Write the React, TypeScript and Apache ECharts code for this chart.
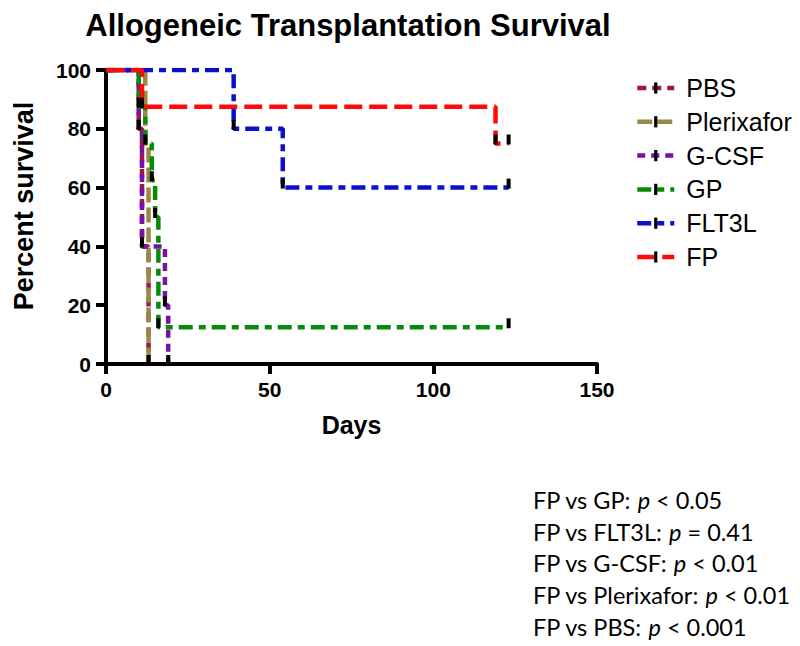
import React, { useEffect, useRef } from "react";
import * as echarts from "echarts";

const seriesNames = ["PBS", "Plerixafor", "G-CSF", "GP", "FLT3L", "FP"];
const pbs: number[][] = [[0, 100], [10, 80], [11, 40], [13, 0]];
const plerixafor: number[][] = [[0, 100], [12, 75], [13, 0]];
const gcsf: number[][] = [[0, 100], [10, 80], [11, 40], [18, 20], [19, 0]];
const gp: number[][] = [[0, 100], [10, 87.5], [12, 75], [14, 62.5], [15, 50], [16, 12.5], [123, 12.5]];
const flt3l: number[][] = [[0, 100], [39, 80], [54, 60], [123, 60]];
const fp: number[][] = [[0, 100], [11, 87.5], [119, 75], [123, 75]];
const seriesData = [pbs, plerixafor, gcsf, gp, flt3l, fp];

const colors = ["#A0144E", "#9A8848", "#7A10A8", "#078A07", "#0A10CC", "#FF0A0A"];
const dashes: number[][] = [[9, 6], [15, 5], [8, 6], [14, 6, 7, 6], [14, 6, 7, 6], [18, 7]];

const xTicks = [0, 50, 100, 150];
const yTicks = [0, 20, 40, 60, 80, 100];

const comparisons = ["GP", "FLT3L", "G-CSF", "Plerixafor", "PBS"];
const pOps = ["<", "=", "<", "<", "<"];
const pVals = ["0.05", "0.41", "0.01", "0.01", "0.001"];

const ARIAL = "Arial, 'Liberation Sans', sans-serif";
const markSymbol = "path://M0,10 L0,10 M14,0 L14,0 M5,0 L9,0 L9,10 L5,10 Z";

export default function App() {
  const ref = useRef<HTMLDivElement>(null);
  useEffect(() => {
    if (!ref.current) return;
    const chart = echarts.init(ref.current, null, { renderer: "svg" });
    const statFont = "Lato, 'Open Sans', sans-serif";
    const graphics: any[] = [
      {
        type: "text",
        x: 348,
        y: 25,
        style: {
          text: "Allogeneic Transplantation Survival",
          fontSize: 31,
          fontWeight: "bold",
          fontFamily: ARIAL,
          fill: "#000",
          textAlign: "center",
          textVerticalAlign: "middle",
        },
      },
      {
        type: "text",
        x: 24,
        y: 206,
        rotation: Math.PI / 2,
        style: {
          text: "Percent survival",
          fontSize: 27,
          fontWeight: "bold",
          fontFamily: ARIAL,
          fill: "#000",
          textAlign: "center",
          textVerticalAlign: "middle",
        },
      },
    ];
    comparisons.forEach((c, i) => {
      graphics.push({
        type: "text",
        x: 533,
        y: 500 + i * 31.7,
        style: {
          text: `FP vs ${c}: {i|p} ${pOps[i]} ${pVals[i]}`,
          fontSize: 23.5,
          fontFamily: statFont,
          fill: "#000",
          textVerticalAlign: "middle",
          rich: {
            i: { fontStyle: "italic", fontSize: 23.5, fontFamily: statFont, fill: "#000" },
          },
        },
      });
    });
    chart.setOption({
      animation: false,
      backgroundColor: "#fff",
      grid: { left: 106, right: 203, top: 70, bottom: 282, containLabel: false },
      legend: {
        orient: "vertical",
        left: 630,
        top: 70,
        itemGap: 7.8,
        itemWidth: 37,
        itemHeight: 14,
        data: seriesNames,
        lineStyle: { width: 4.5 },
        textStyle: {
          fontSize: 25,
          lineHeight: 26,
          fontFamily: ARIAL,
          color: "#000",
          padding: [0, 0, 0, 7],
        },
      },
      xAxis: {
        type: "value",
        min: 0,
        max: 150,
        interval: 50,
        name: "Days",
        nameLocation: "middle",
        nameGap: 48,
        nameTextStyle: { fontSize: 25, fontWeight: "bold", fontFamily: ARIAL, color: "#000" },
        axisLine: { lineStyle: { color: "#000", width: 4 } },
        axisTick: { show: true, length: 10, lineStyle: { color: "#000", width: 4 } },
        axisLabel: {
          margin: 15,
          fontSize: 21,
          fontWeight: "bold",
          fontFamily: ARIAL,
          color: "#000",
          formatter: (v: number) => (xTicks.includes(v) ? String(v) : ""),
        },
        splitLine: { show: false },
      },
      yAxis: {
        type: "value",
        min: 0,
        max: 100,
        interval: 20,
        axisLine: { show: true, lineStyle: { color: "#000", width: 4 } },
        axisTick: { show: true, length: 10, lineStyle: { color: "#000", width: 4 } },
        axisLabel: {
          margin: 15,
          fontSize: 21,
          fontWeight: "bold",
          fontFamily: ARIAL,
          color: "#000",
          formatter: (v: number) => (yTicks.includes(v) ? String(v) : ""),
        },
        splitLine: { show: false },
      },
      series: seriesNames.map((name, i) => ({
        name,
        type: "line",
        step: "end",
        data: seriesData[i].map((p, j) => (j === 0 ? { value: p, symbol: "none" } : { value: p })),
        symbol: markSymbol,
        symbolSize: [14, 10],
        symbolOffset: [0, -4],
        showSymbol: true,
        itemStyle: { color: "#000" },
        lineStyle: { color: colors[i], width: 4.5, type: dashes[i] },
        z: 2 + i,
      })),
      graphic: graphics,
    });
    return () => chart.dispose();
  }, []);
  return (
    <div
      ref={ref}
      style={{ position: "fixed", left: 0, top: 0, width: 800, height: 646 }}
    />
  );
}
